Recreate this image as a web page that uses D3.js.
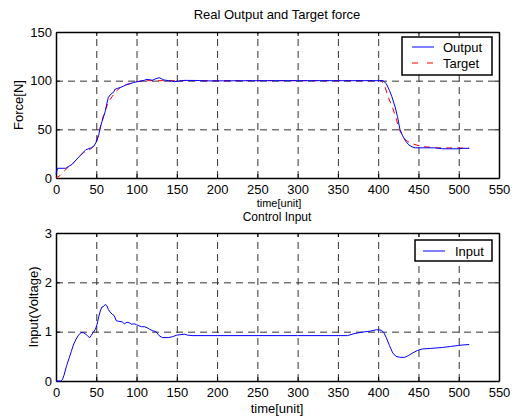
<!DOCTYPE html>
<html><head><meta charset="utf-8">
<script src="https://cdn.jsdelivr.net/npm/d3@7"></script>
<style>
html,body{margin:0;padding:0;background:#fff;}
svg{display:block;font-family:"Liberation Sans",Arial,sans-serif;}
</style></head>
<body>
<svg id="chart" width="519" height="419"></svg>
<script>
// ---- data ----
const outputTime = [0,2,12,16,20,26,30,34,37,40,44,47,50,53,55,57,61,63,65,68,72,73,76,80,84,88,92.5,96,101,105,110,113,117,120,124,128,131,134,140,147,152,160,175,185,200,250,300,350,380,406,410,414,417,421,424,427,430,434,438,442,446,470,480,500,505,513];
const outputForce = [4,10,10,12,14,19.5,23,26.5,29,30,31,32.5,37,44,52,57.6,68,76,83,86,88.6,91,92,93,94.5,96,97,98,99,99.5,100.5,101.4,100.8,100.5,102,103,102,100.7,100,99,99.5,100.3,100.2,99.8,99.8,100,100,100,100,100,97,90,83.5,73,63,50,44,38,34,32,31,31,30,30,30.5,30.5];
const targetTime = [0,5,10,17.5,22,26,34,40,43,46,51,54,57,61,65,70,74,80,84,92,100,110,120,400,404,408,412,418,422,426,430,434,440,447,452,460,470,513];
const targetForce = [0,2.5,7,13,16,19.5,26,28.5,30,32,40,48,59,69,78,84,88.6,93,95,97,99,100,100,100,100,95,84,72,62,50,44,39,36,34,33,32,31,30.8];
const inputTime = [0,6,8,10,13,16,19,22,25,28,31,34,37,40,42,44,46,49,51,53,55,57,59,61,63,65,67,70,72,75,78,82,85,88,91,94,97,100,103,106,110,113,116,120,124,128,132,140,145,150,155,160,163,170,200,300,362,370,380,390,398,404,407,410,414,418,422,427,433,438,443,449,455,465,480,490,500,505,513];
const inputVolt = [0,0,0.03,0.12,0.3,0.45,0.6,0.75,0.85,0.93,0.98,0.98,0.95,0.9,0.88,0.93,0.98,1.05,1.15,1.3,1.42,1.5,1.51,1.55,1.53,1.45,1.4,1.35,1.33,1.22,1.21,1.2,1.16,1.19,1.18,1.15,1.16,1.14,1.12,1.1,1.1,1.08,1.05,1.02,1.0,0.92,0.88,0.88,0.9,0.93,0.94,0.95,0.93,0.92,0.92,0.92,0.92,0.96,0.99,1.01,1.04,1.03,0.98,0.88,0.72,0.57,0.5,0.48,0.48,0.52,0.57,0.62,0.65,0.66,0.68,0.7,0.72,0.73,0.74];
const xTicks = [0,50,100,150,200,250,300,350,400,450,500,550];
const forceTicks = [0,50,100,150];
const voltTicks = [0,1,2,3];

const svg = d3.select("#chart");
const FS = "13px";

function panel(cfg){
  const {top,bottom,left,right,ydom,yticks} = cfg;
  const x = d3.scaleLinear().domain([0,550]).range([left,right]);
  const y = d3.scaleLinear().domain(ydom).range([bottom,top]);
  const g = svg.append("g");
  // grid
  const grid = g.append("g").attr("class","grid");
  grid.append("g").attr("transform",`translate(0,${bottom})`)
    .call(d3.axisBottom(x).tickValues(xTicks.slice(1,-1)).tickSize(-(bottom-top)).tickFormat(""))
    .call(s=>s.select(".domain").remove());
  grid.append("g").attr("transform",`translate(${left},0)`)
    .call(d3.axisLeft(y).tickValues(yticks.slice(1,-1)).tickSize(-(right-left)).tickFormat(""))
    .call(s=>s.select(".domain").remove());
  grid.selectAll("line").attr("stroke","#333").attr("stroke-width",1).attr("stroke-dasharray","7,5");
  // axes
  const ax = g.append("g").attr("transform",`translate(0,${bottom})`)
    .call(d3.axisBottom(x).tickValues(xTicks).tickSize(-4).tickPadding(7).tickSizeOuter(0).tickFormat(d3.format("d")));
  const ay = g.append("g").attr("transform",`translate(${left},0)`)
    .call(d3.axisLeft(y).tickValues(yticks).tickSize(-4).tickPadding(4).tickSizeOuter(0).tickFormat(d3.format("d")));
  const axT = g.append("g").attr("transform",`translate(0,${top})`)
    .call(d3.axisTop(x).tickValues(xTicks).tickSize(-4).tickFormat("").tickSizeOuter(0));
  const ayR = g.append("g").attr("transform",`translate(${right},0)`)
    .call(d3.axisRight(y).tickValues(yticks).tickSize(-4).tickFormat("").tickSizeOuter(0));
  [ax,ay,axT,ayR].forEach(a=>{
    a.selectAll("text").attr("font-size",FS).attr("font-family","Liberation Sans, Arial, sans-serif").attr("fill","#000");
    a.selectAll("line").attr("stroke","#000");
    a.select(".domain").attr("stroke","#000").attr("stroke-width",1.5);
  });
  return {x,y,g};
}

function legend(g, x0,y0,x1,y1, items){
  g.append("rect").attr("x",x0).attr("y",y0).attr("width",x1-x0).attr("height",y1-y0)
    .attr("fill","#fff").attr("stroke","#000").attr("stroke-width",1.5);
  items.forEach(it=>{
    g.append("line").attr("x1",it.lx0).attr("x2",it.lx1).attr("y1",it.y).attr("y2",it.y)
      .attr("stroke",it.color).attr("stroke-width",1).attr("stroke-dasharray",it.dash||null);
    g.append("text").attr("x",it.tx).attr("y",it.y).attr("dy","0.35em")
      .attr("font-size",FS).text(it.label);
  });
}

// top panel
const P1 = panel({top:32,bottom:178,left:56,right:499,ydom:[0,150],yticks:forceTicks});
const line1 = d3.line().x(d=>P1.x(d[0])).y(d=>P1.y(d[1]));
P1.g.append("path").datum(targetTime.map((t,i)=>[t,targetForce[i]]))
  .attr("d",line1).attr("fill","none").attr("stroke","#ff0000").attr("stroke-width",1).attr("stroke-dasharray","6,5");
P1.g.append("path").datum(outputTime.map((t,i)=>[t,outputForce[i]]))
  .attr("d",line1).attr("fill","none").attr("stroke","#0000ff").attr("stroke-width",1);
legend(P1.g,402,37,492,75,[
  {label:"Output",color:"#0000ff",y:47,lx0:412,lx1:434,tx:443},
  {label:"Target",color:"#ff0000",y:63,lx0:412,lx1:434,tx:443,dash:"6,9"}
]);

// bottom panel
const P2 = panel({top:233,bottom:381,left:56,right:499,ydom:[0,3],yticks:voltTicks});
const line2 = d3.line().x(d=>P2.x(d[0])).y(d=>P2.y(d[1]));
P2.g.append("path").datum(inputTime.map((t,i)=>[t,inputVolt[i]]))
  .attr("d",line2).attr("fill","none").attr("stroke","#0000ff").attr("stroke-width",1);
legend(P2.g,415,240,492,261,[
  {label:"Input",color:"#0000ff",y:251,lx0:423,lx1:445,tx:455}
]);

// texts
const T = (x,y,s,rot,fs)=>{
  const t = svg.append("text").attr("font-size",fs||FS).attr("text-anchor","middle").text(s);
  if(rot){ t.attr("transform",`translate(${x},${y}) rotate(-90)`); }
  else t.attr("x",x).attr("y",y);
  return t;
};
T(277,19,"Real Output and Target force");
T(279,207,"time[unit]",false,"11px");
T(277,221,"Control Input",false,"12px");
T(277,413,"time[unit]");
T(23,105,"Force[N]",true);
T(38,307,"Input(Voltage)",true);
</script>
</body></html>
